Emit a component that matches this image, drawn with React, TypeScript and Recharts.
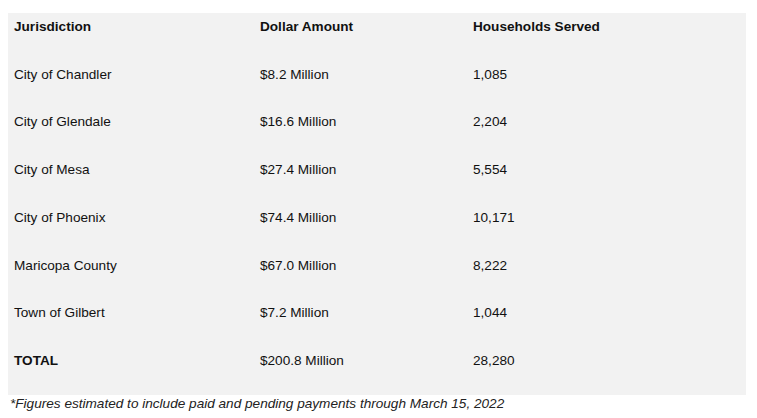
import { BarChart, XAxis, YAxis, CartesianGrid } from 'recharts';

const headers = ['Jurisdiction', 'Dollar Amount', 'Households Served'];
const jurisdictions = [
  'City of Chandler', 'City of Glendale', 'City of Mesa', 'City of Phoenix',
  'Maricopa County', 'Town of Gilbert', 'TOTAL',
];
const dollarAmounts = [
  '$8.2 Million', '$16.6 Million', '$27.4 Million', '$74.4 Million',
  '$67.0 Million', '$7.2 Million', '$200.8 Million',
];
const households = ['1,085', '2,204', '5,554', '10,171', '8,222', '1,044', '28,280'];
const footnote = '*Figures estimated to include paid and pending payments through March 15, 2022';

type Row = { jurisdiction: string; amount: string; households: string; bold: boolean };

const rows: Row[] = [
  { jurisdiction: headers[0], amount: headers[1], households: headers[2], bold: true },
  ...jurisdictions.map((j, i) => ({
    jurisdiction: j,
    amount: dollarAmounts[i],
    households: households[i],
    bold: j === 'TOTAL',
  })),
];

const colX = [14, 260, 473];
const font = '"Liberation Sans", Arial, sans-serif';

// eslint-disable-next-line @typescript-eslint/no-explicit-any
function RowTick({ y, index }: any) {
  const row = rows[index];
  if (!row) return null;
  const cells = [row.jurisdiction, row.amount, row.households];
  return (
    <g>
      {cells.map((c, i) => (
        <text
          key={i}
          x={colX[i]}
          y={y - 6}
          fontFamily={font}
          fontSize={13.6}
          fontWeight={row.bold && (index === 0 || i === 0) ? 700 : 400}
          fill="#111"
        >
          {c}
        </text>
      ))}
    </g>
  );
}

export default function App() {
  return (
    <div style={{ position: 'absolute', left: 0, top: 0, width: 757, height: 418, background: '#fff' }}>
      <BarChart
        width={757}
        height={418}
        layout="vertical"
        data={rows}
        margin={{ top: 13, right: 11, left: 0, bottom: 23 }}
      >
        <CartesianGrid fill="#f2f2f2" stroke="none" horizontal={false} vertical={false} />
        <XAxis type="number" hide domain={[0, 1]} />
        <YAxis
          type="category"
          dataKey="jurisdiction"
          width={8}
          axisLine={false}
          tickLine={false}
          interval={0}
          tick={<RowTick />}
        />
      </BarChart>
      <div
        style={{
          position: 'absolute', left: 10, top: 396, fontFamily: font, fontSize: 13.6,
          fontStyle: 'italic', color: '#222', whiteSpace: 'nowrap',
        }}
      >
        {footnote}
      </div>
    </div>
  );
}
